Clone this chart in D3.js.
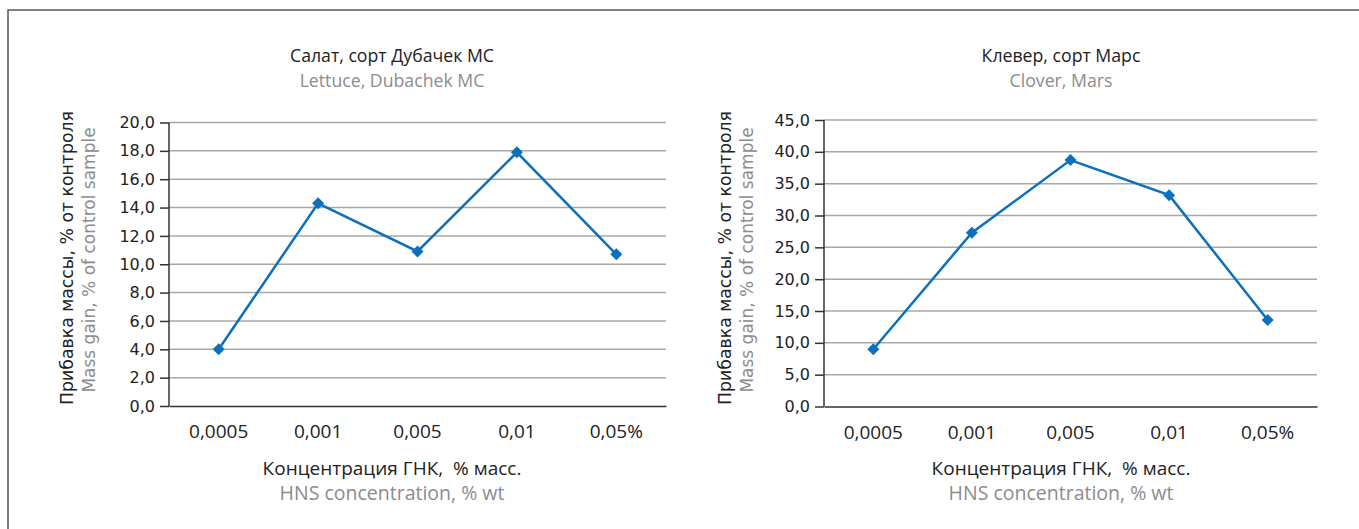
<!DOCTYPE html>
<html><head><meta charset="utf-8">
<script src="https://cdn.jsdelivr.net/npm/d3@7"></script>
<style>
html,body{margin:0;padding:0;background:#fff;}
svg{display:block;}
text{white-space:pre;}
</style></head>
<body>
<svg id="chart" width="1359" height="529"></svg>
<script>
// ---- data ----
const categories = ["0,0005", "0,001", "0,005", "0,01", "0,05%"];
const lettuceValues = [4.0, 14.3, 10.9, 17.9, 10.7];
const cloverValues = [9.0, 27.3, 38.7, 33.2, 13.6];
const lettuceTicks = [0, 2, 4, 6, 8, 10, 12, 14, 16, 18, 20];
const cloverTicks = [0, 5, 10, 15, 20, 25, 30, 35, 40, 45];
const titlesRu = ["Салат, сорт Дубачек МС", "Клевер, сорт Марс"];
const titlesEn = ["Lettuce, Dubachek MC", "Clover, Mars"];
const yTitleRu = "Прибавка массы, % от контроля";
const yTitleEn = "Mass gain, % of control sample";
const xTitleRu = "Концентрация ГНК,  % масс.";
const xTitleEn = "HNS concentration, % wt";

const svg = d3.select("#chart");
const BLUE = "#0b70bd", GRID = "#a8a8a8", AXIS = "#333", DARK = "#222", GREY = "#8c8c8c";

svg.append("rect").attr("x", 8).attr("y", 10).attr("width", 1400).attr("height", 600)
  .attr("fill", "none").attr("stroke", "#555").attr("stroke-width", 1.5);

const fmt = v => d3.format(".1f")(v).replace(".", ",");

function drawPanel(cfg) {
  const x = d3.scaleBand().domain(categories).range([cfg.x0, cfg.x1]);
  const y = d3.scaleLinear().domain([0, cfg.ymax]).range([cfg.yb, cfg.yt]);
  const g = svg.append("g");

  // grid
  g.append("g").selectAll("line").data(cfg.ticks.filter(t => t > 0)).join("line")
    .attr("x1", cfg.x0).attr("x2", cfg.x1)
    .attr("y1", d => y(d)).attr("y2", d => y(d))
    .attr("stroke", GRID).attr("stroke-width", 1.5);

  // y axis
  const ya = g.append("g").attr("transform", `translate(${cfg.x0},0)`)
    .call(d3.axisLeft(y).tickValues(cfg.ticks).tickFormat(fmt).tickSize(9).tickPadding(5));
  ya.select(".domain").attr("stroke", AXIS).attr("stroke-width", 1.5).attr("d", `M0,${cfg.yb}V${cfg.yt}`);
  ya.selectAll(".tick line").attr("stroke", AXIS).attr("stroke-width", 1.5);
  ya.selectAll(".tick text").attr("font-family", "DejaVu Sans").attr("font-size", 16).attr("fill", DARK);

  // x axis
  const xa = g.append("g").attr("transform", `translate(0,${cfg.yb})`)
    .call(d3.axisBottom(x).tickSize(0).tickPadding(19));
  xa.select(".domain").attr("stroke", AXIS).attr("stroke-width", 1.5);
  xa.selectAll(".tick text").attr("font-family", "Open Sans").attr("font-size", 19).attr("fill", DARK);

  // line
  const cx = d => x(d) + x.bandwidth() / 2;
  const pts = categories.map((c, i) => [cx(c), y(cfg.values[i])]);
  g.append("path").attr("d", d3.line()(pts)).attr("fill", "none")
    .attr("stroke", BLUE).attr("stroke-width", 2.5);
  g.selectAll("path.mk").data(pts).join("path").attr("class", "mk")
    .attr("transform", d => `translate(${d[0]},${d[1]})`)
    .attr("d", "M0,-6L6,0L0,6L-6,0Z")
    .attr("fill", BLUE);

  // titles
  g.append("text").attr("x", cfg.tx).attr("y", 62).attr("text-anchor", "middle")
    .attr("font-family", "Open Sans").attr("font-size", 17.7).attr("fill", DARK).text(cfg.titleRu);
  g.append("text").attr("x", cfg.tx).attr("y", 87).attr("text-anchor", "middle")
    .attr("font-family", "Open Sans").attr("font-size", 17.7).attr("fill", GREY).text(cfg.titleEn);

  // x title
  g.append("text").attr("x", cfg.tx).attr("y", 475).attr("text-anchor", "middle")
    .attr("font-family", "Open Sans").attr("font-size", 19).attr("fill", DARK).text(xTitleRu);
  g.append("text").attr("x", cfg.tx).attr("y", 500).attr("text-anchor", "middle")
    .attr("font-family", "Open Sans").attr("font-size", 19.5).attr("fill", GREY).text(xTitleEn);

  // y title
  g.append("text").attr("transform", `translate(${cfg.yx1},258) rotate(-90)`).attr("text-anchor", "middle")
    .attr("font-family", "DejaVu Sans").attr("font-size", 17.3).attr("fill", DARK).text(yTitleRu);
  g.append("text").attr("transform", `translate(${cfg.yx2},260) rotate(-90)`).attr("text-anchor", "middle")
    .attr("font-family", "DejaVu Sans").attr("font-size", 17).attr("fill", GREY).text(yTitleEn);
}

drawPanel({x0: 169, x1: 666, yt: 122.5, yb: 406, ymax: 20, ticks: lettuceTicks, values: lettuceValues,
  tx: 392, titleRu: titlesRu[0], titleEn: titlesEn[0], yx1: 73, yx2: 95});
drawPanel({x0: 824, x1: 1317, yt: 120, yb: 406.5, ymax: 45, ticks: cloverTicks, values: cloverValues,
  tx: 1061, titleRu: titlesRu[1], titleEn: titlesEn[1], yx1: 731, yx2: 753});
</script>
</body></html>
